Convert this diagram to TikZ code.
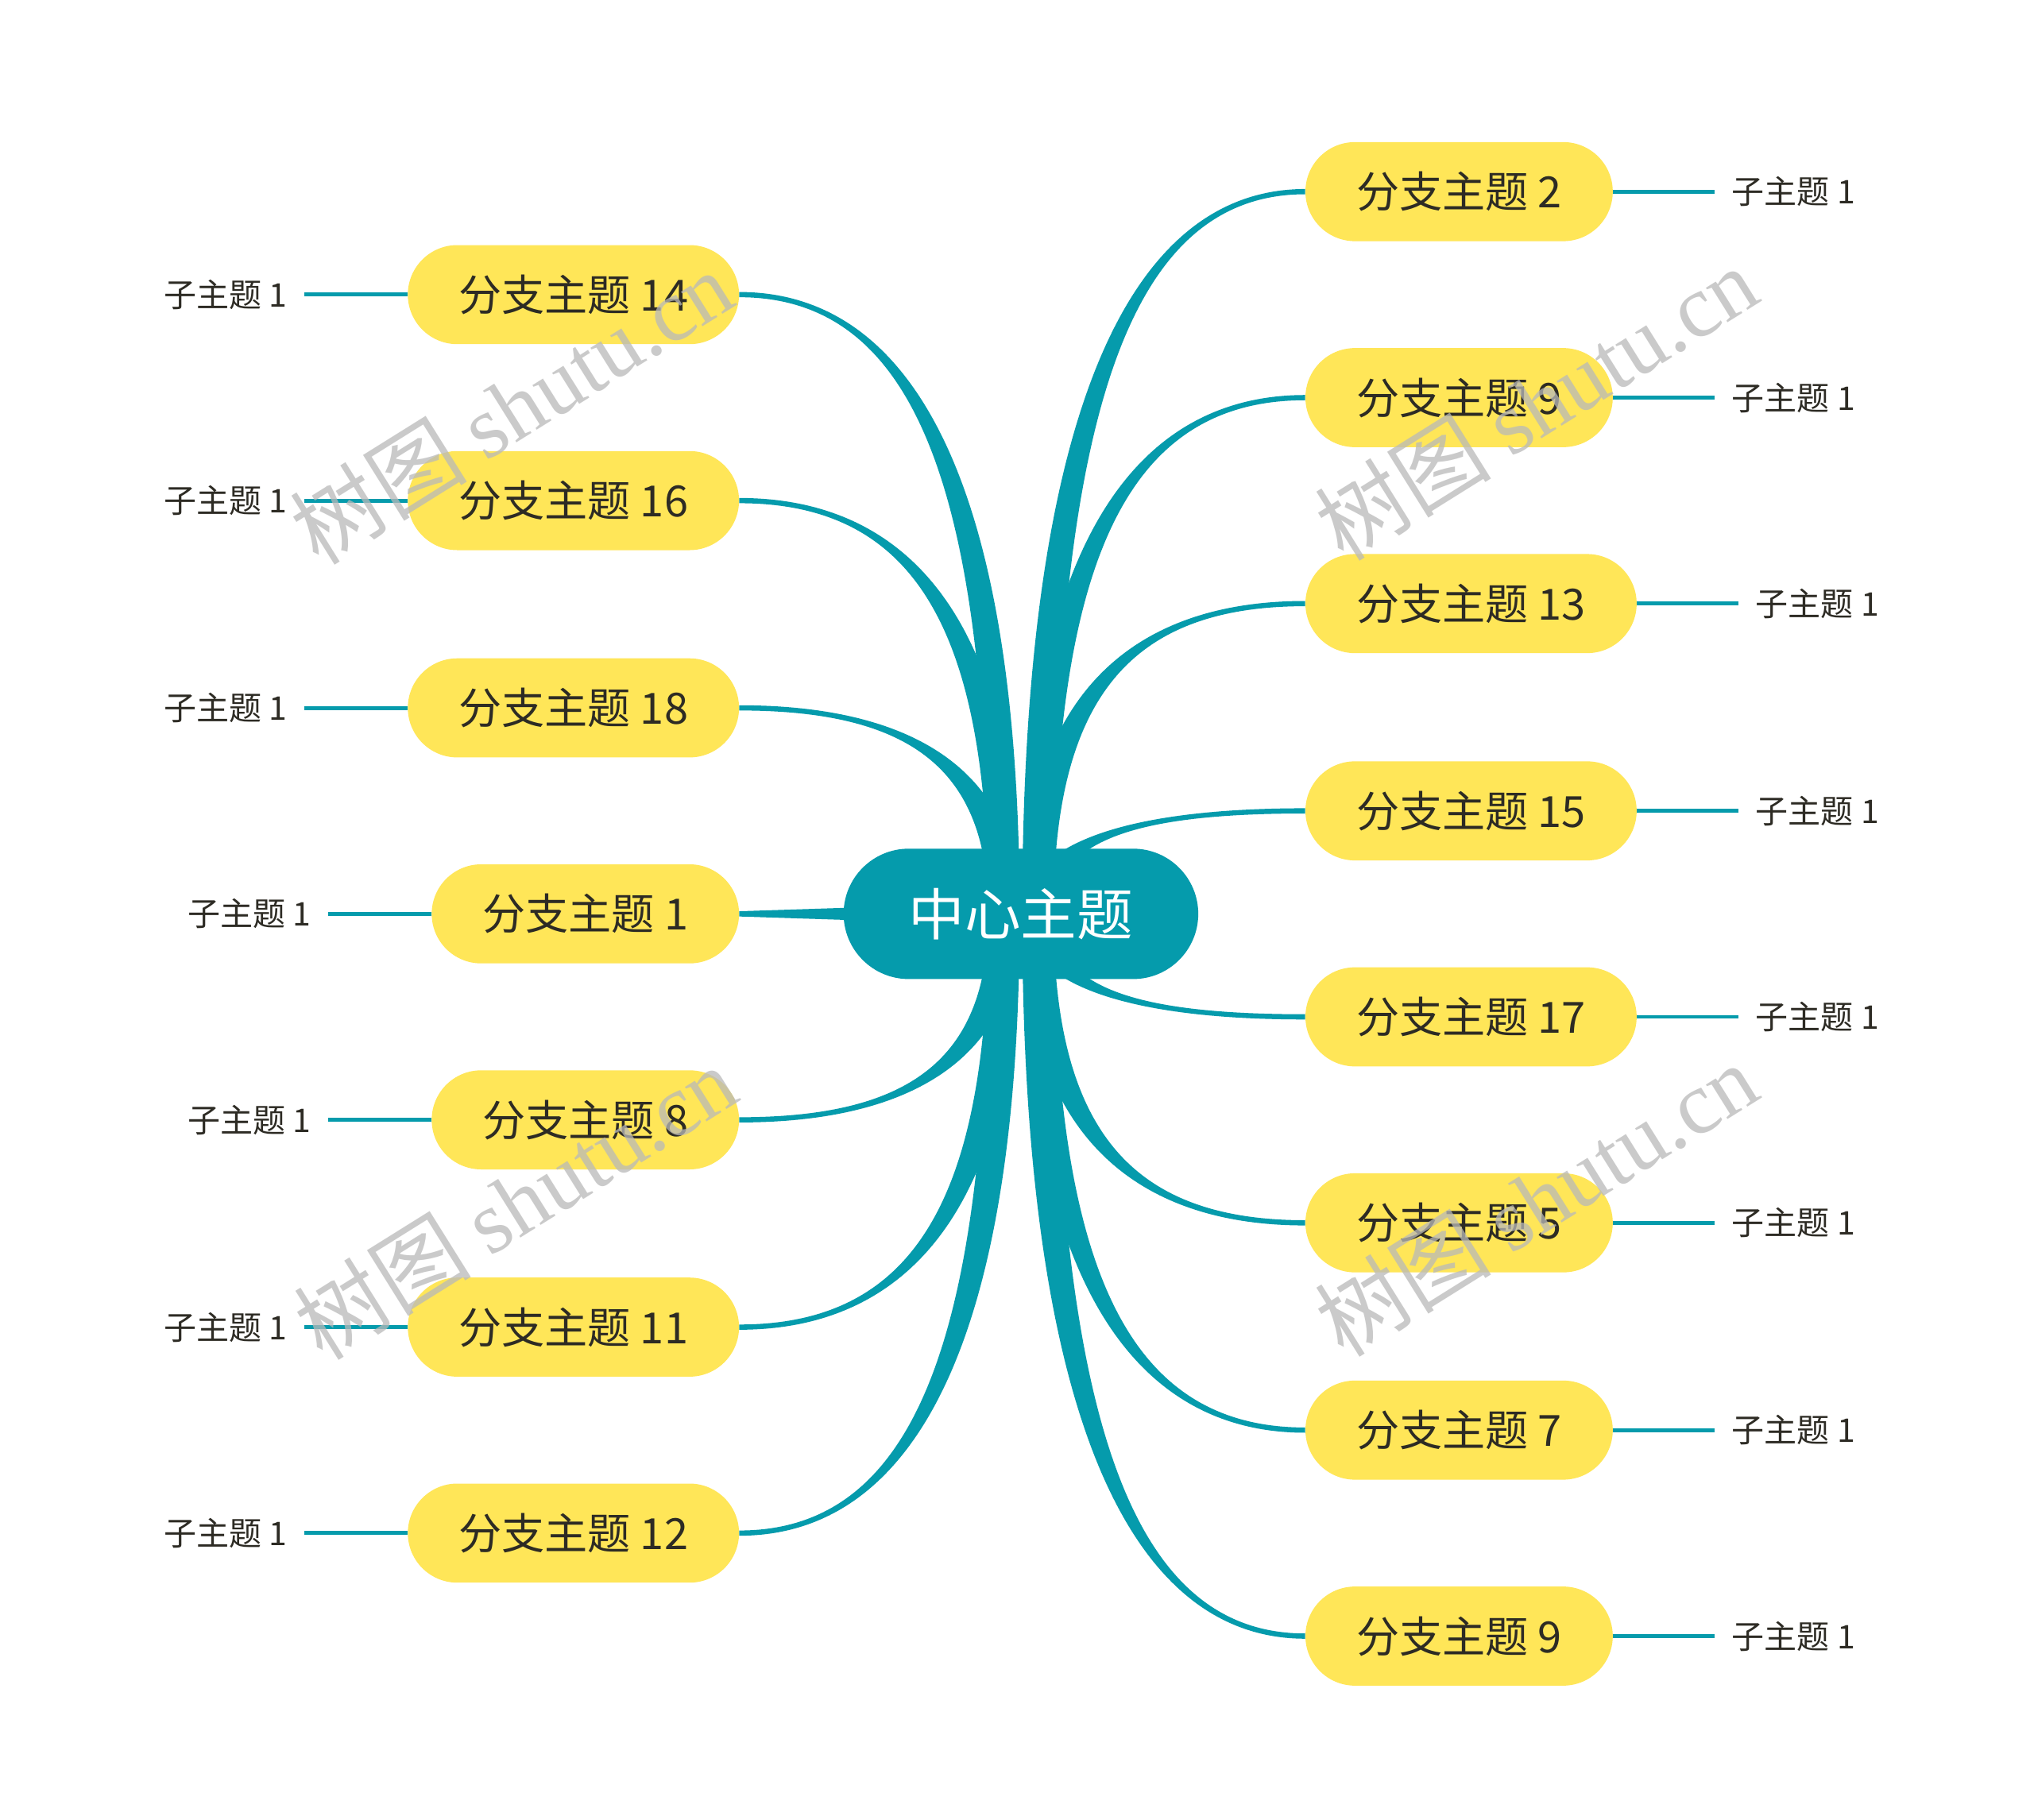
\documentclass[tikz,border=0pt]{standalone}
\usepackage{fontspec}
\setmainfont{Noto Sans CJK SC}
\newfontfamily\cjk{Noto Sans CJK SC}
\newfontfamily\wmfont{Liberation Serif}
\usetikzlibrary{calc,backgrounds}
\definecolor{tealc}{RGB}{5,155,172}
\definecolor{yel}{RGB}{255,230,88}
\definecolor{txt}{RGB}{45,43,36}
\definecolor{wmgray}{RGB}{185,185,185}
\tikzset{
  mainbox/.style={fill=tealc, rounded corners=50pt, minimum height=100pt, inner xsep=50pt, inner ysep=0pt, text=white, font=\fontsize{43}{50}\selectfont},
  branchbox/.style={fill=yel, rounded corners=38pt, minimum height=76pt, inner xsep=39pt, inner ysep=0pt, text=txt, font=\fontsize{33}{40}\selectfont},
  subtext/.style={inner sep=0pt, text=txt, font=\fontsize{25}{30}\selectfont},
  subline/.style={draw=tealc, line width=3pt},
  wm/.style={text=wmgray, text opacity=0.75, rotate=32, inner sep=0pt, font=\fontsize{68}{78}\selectfont}
}
% tapered connector: #1 start, #2 end, #3 start width, #4 end width, #5 sign
\newcommand\taper[5]{%
  \fill[tealc] let \p1=(#1), \p2=(#2) in
   ({\x1-#3/2},{\y1}) .. controls ({\x1-#3/2},{\y1+0.7*(\y2-\y1)}) and ({\x1+0.35*(\x2-\x1)},{\y2+#5*#4/2}) .. ({\x2},{\y2+#5*#4/2})
   -- ({\x2},{\y2-#5*#4/2}) .. controls ({\x1+0.35*(\x2-\x1)},{\y2-#5*#4/2}) and ({\x1+#3/2},{\y1+0.7*(\y2-\y1)}) .. ({\x1+#3/2},{\y1}) -- cycle;}
\begin{document}
\begin{tikzpicture}[x=1pt,y=-1pt]
\useasboundingbox (0,0) rectangle (1560,1396);
% center
\node[mainbox] (c) at (783,701) {中心主题};
% right branches
\node[branchbox, anchor=west] (b2)  at (1001,147)  {分支主题 2};
\node[branchbox, anchor=west] (b9)  at (1001,305)  {分支主题 9};
\node[branchbox, anchor=west] (b13) at (1001,463)  {分支主题 13};
\node[branchbox, anchor=west] (b15) at (1001,622)  {分支主题 15};
\node[branchbox, anchor=west] (b17) at (1001,780)  {分支主题 17};
\node[branchbox, anchor=west] (b5)  at (1001,938)  {分支主题 5};
\node[branchbox, anchor=west] (b7)  at (1001,1097) {分支主题 7};
\node[branchbox, anchor=west] (b9b) at (1001,1255) {分支主题 9};
% left branches
\node[branchbox, anchor=east] (b14) at (567,226)  {分支主题 14};
\node[branchbox, anchor=east] (b16) at (567,384)  {分支主题 16};
\node[branchbox, anchor=east] (b18) at (567,543)  {分支主题 18};
\node[branchbox, anchor=east] (b1)  at (567,701)  {分支主题 1};
\node[branchbox, anchor=east] (b8)  at (567,859)  {分支主题 8};
\node[branchbox, anchor=east] (b11) at (567,1018) {分支主题 11};
\node[branchbox, anchor=east] (b12) at (567,1176) {分支主题 12};
% sub topics right
\foreach \b in {b2,b9,b13,b15,b17,b5,b7,b9b}{
  \node[subtext, anchor=west] (s\b) at ($(\b.east)+(91,0)$) {子主题 1};
  \draw[subline, shorten >=13pt] (\b.east) -- (s\b.west);
}
% sub topics left
\foreach \b in {b14,b16,b18,b1,b8,b11,b12}{
  \node[subtext, anchor=east] (s\b) at ($(\b.west)+(-92,0)$) {子主题 1};
  \draw[subline, shorten >=13pt] (\b.west) -- (s\b.east);
}
\begin{pgfonlayer}{background}
\fill[white] (0,0) rectangle (1560,1396);
% right top
\foreach \b in {b2,b9,b13,b15}{\taper{$(c.center)+(13,0)$}{\b.west}{24pt}{4pt}{1}}
% right bottom
\foreach \b in {b17,b5,b7,b9b}{\taper{$(c.center)+(13,0)$}{\b.west}{24pt}{4pt}{(-1)}}
% left top
\foreach \b in {b14,b16,b18}{\taper{$(c.center)+(-13,0)$}{\b.east}{24pt}{4pt}{(-1)}}
% left bottom
\foreach \b in {b8,b11,b12}{\taper{$(c.center)+(-13,0)$}{\b.east}{24pt}{4pt}{1}}
% straight
\fill[tealc] ($(c.center)+(0,-9)$) -- ($(b1.east)+(0,-2)$) -- ($(b1.east)+(0,2)$) -- ($(c.center)+(0,9)$) -- cycle;
\end{pgfonlayer}
% watermarks
\node[wm] (w1) at (392,312) {\cjk 树图 \wmfont shutu.cn};
\node[wm] (w2) at (395,922) {\cjk 树图 \wmfont shutu.cn};
\node[wm] (w3) at (1178,309) {\cjk 树图 \wmfont shutu.cn};
\node[wm] (w4) at (1178,920) {\cjk 树图 \wmfont shutu.cn};
\end{tikzpicture}
\end{document}
